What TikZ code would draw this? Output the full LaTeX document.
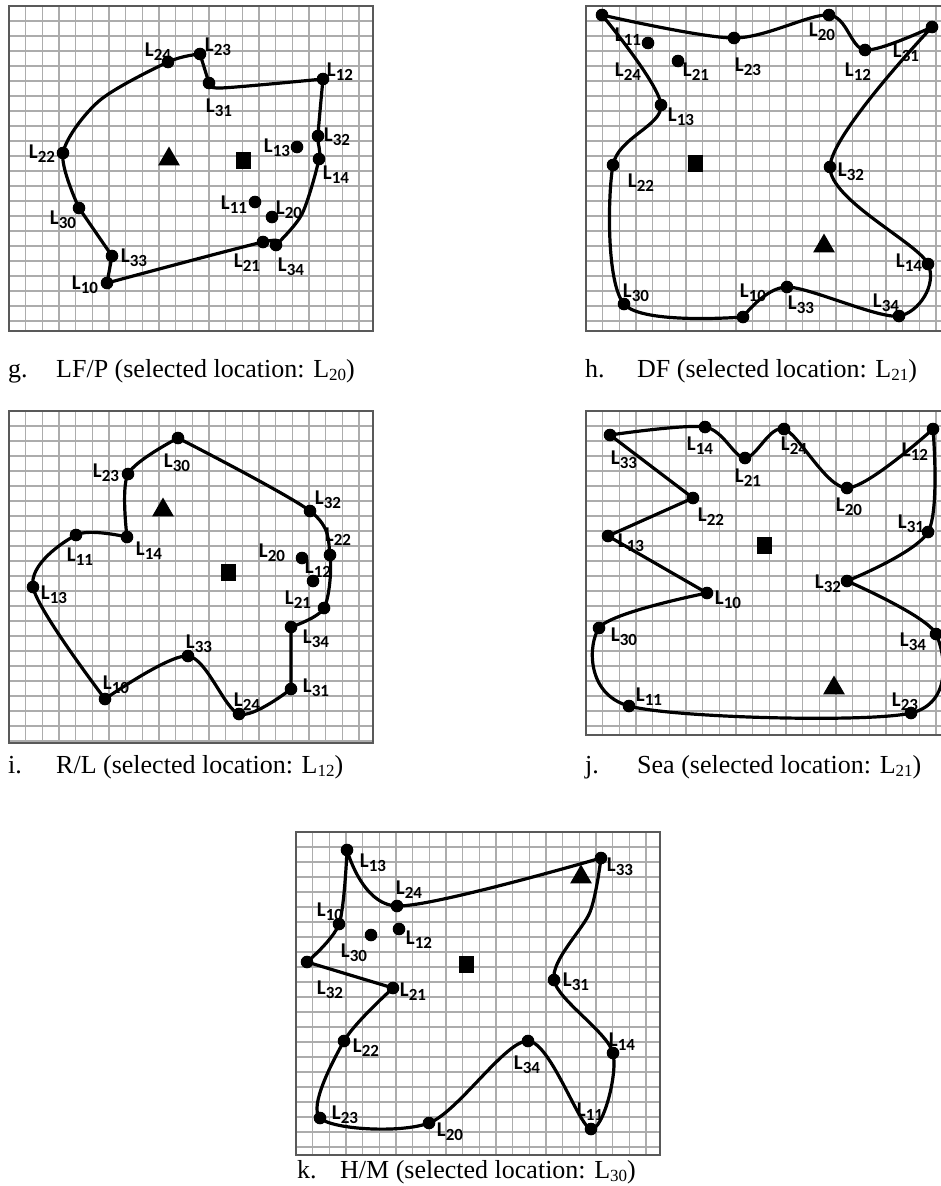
\documentclass[tikz,border=0pt]{standalone}
\usepackage{fontspec}
\setmainfont{Liberation Serif}
\newfontfamily\lblfont{Carlito}
\usetikzlibrary{shapes.geometric}

\newcommand\loc[1]{L\raisebox{-4pt}{\fontsize{17}{17}\selectfont #1}}
\newcommand\csub[1]{\raisebox{-3pt}{\fontsize{17}{17}\selectfont #1}}
% grid box: x0, y0, width, height
\newcommand\gridpanel[4]{%
  \begin{scope}
    \clip (#1,#2) rectangle ++(#3,#4);
    \foreach \i in {1,...,22} {
      \draw[gridline] (#1+\i*16.67,#2) -- ++(0,#4);
      \draw[gridline] (#1,#2+\i*15) -- ++(#3,0);
    }
  \end{scope}
  \draw[frame] (#1,#2) rectangle ++(#3,#4);
}

\begin{document}
\begin{tikzpicture}[
    x=1pt, y=-1pt,
    gridline/.style={gray!65, line width=1.4pt},
    frame/.style={gray!70!black, line width=1.5pt},
    edge/.style={line width=3.2pt, line join=round},
    lbl/.style={font=\lblfont\bfseries\fontsize{21}{21}\selectfont, inner sep=0pt},
    captext/.style={font=\fontsize{26}{30}\selectfont, inner sep=0pt, anchor=base west},
    tri/.style={regular polygon, regular polygon sides=3, fill, minimum size=25pt, inner sep=0pt},
    sq/.style={rectangle, fill, minimum width=15pt, minimum height=17pt, inner sep=0pt}
  ]
  \useasboundingbox (0,0) rectangle (941,1186);

  % Grades
  \gridpanel{9}{6}{364}{325}
  \gridpanel{586}{6}{364}{325}
  \gridpanel{9}{411}{364}{332}
  \gridpanel{586}{411}{364}{324}
  \gridpanel{296}{832}{364}{323}

  % g. LF/P
  \foreach \n/\x/\y/\a/\b in {24/168/62/158/52, 23/200/54/218/47, 31/209/83/219/108,
      12/323/79/340/72, 32/318/136/337/137, 14/319/159/336/175, 34/276/245/291/267,
      21/263/242/247/263, 10/107/283/85/285, 33/112/256/134/258, 30/79/208/63/220,
      22/63/153/42/154, 13/297/147/277/148, 11/255/202/234/205, 20/272/217/289/210} {
    \coordinate (g\n) at (\x,\y);
    \fill (g\n) circle[radius=6.3];
    \node[lbl] (lg\n) at (\a,\b) {\loc{\n}};
  }
  \draw[edge] plot[smooth] coordinates {(g12) (g32) (g14) (302,214) (g34)}
    -- plot[smooth] coordinates {(g34) (g21) (g10)} -- (g33) -- (g30)
    -- plot[smooth] coordinates {(g30) (g22) (99,101) (g24) (g23)} -- (g31)
    -- plot[smooth] coordinates {(g31) (221,88) (g12)} -- cycle;
  \node[tri] (gtri) at (169,159) {};
  \node[sq] (gsq) at (243,160) {};

  % h. DF
  \foreach \n/\x/\y/\a/\b in {11/602/15/628/37, 24/648/43/628/72, 21/678/61/696/72,
      23/734/38/748/67, 20/829/15/822/32, 12/865/50/858/72, 31/932/27/906/53,
      13/661/105/681/117, 22/613/165/641/183, 32/830/167/851/172, 14/928/264/909/263,
      30/624/304/636/293, 10/743/317/753/293, 33/787/287/801/305, 34/899/316/886/303} {
    \coordinate (h\n) at (\x,\y);
    \fill (h\n) circle[radius=6.3];
    \node[lbl] (lh\n) at (\a,\b) {\loc{\n}};
  }
  \draw[edge] plot[smooth] coordinates {(h11) (h23) (h20) (h12) (h31)}
    -- plot[smooth] coordinates {(h31) (h32) (h14) (h34) (h33) (h10)}
    -- plot[smooth] coordinates {(h10) (h30) (h22) (h13) (h11)} -- cycle;
  \node[tri] (htri) at (824,246) {};
  \node[sq] (hsq) at (695,163) {};

  % i. R/L
  \foreach \n/\x/\y/\a/\b in {30/178/438/177/463, 23/128/474/106/473, 32/310/511/328/500,
      22/330/555/338/537, 20/302/558/272/553, 12/313/581/318/569, 21/324/608/298/600,
      34/291/627/316/639, 31/291/689/316/688, 24/239/714/247/702, 33/188/656/199/644,
      10/105/699/116/685, 13/33/587/54/595, 11/76/535/80/557, 14/127/537/149/551} {
    \coordinate (i\n) at (\x,\y);
    \fill (i\n) circle[radius=6.3];
    \node[lbl] (li\n) at (\a,\b) {\loc{\n}};
  }
  \draw[edge] plot[smooth] coordinates {(i30) (i32) (i22) (i21) (i34)} -- (i31)
    -- plot[smooth] coordinates {(i31) (i24) (i33) (i10)}
    -- plot[smooth] coordinates {(i10) (i13) (i11) (i14)}
    -- plot[smooth] coordinates {(i14) (i23) (i30)} -- cycle;
  \node[tri] (itri) at (163,510) {};
  \node[sq] (isq) at (228,572) {};

  % j. Sea
  \foreach \n/\x/\y/\a/\b in {33/610/435/624/460, 14/705/427/700/446, 21/745/458/748/478,
      24/784/429/794/446, 20/847/488/849/507, 12/933/429/915/452, 31/928/532/911/524,
      32/847/581/828/584, 34/936/634/913/642, 23/911/713/905/702, 11/629/706/649/697,
      30/599/628/624/637, 10/707/593/728/600, 13/608/536/631/543, 22/693/498/711/517} {
    \coordinate (j\n) at (\x,\y);
    \fill (j\n) circle[radius=6.3];
    \node[lbl] (lj\n) at (\a,\b) {\loc{\n}};
  }
  \draw[edge] plot[smooth] coordinates {(j33) (j14) (j21) (j24) (j20) (j12)}
    -- plot[smooth] coordinates {(j12) (j31) (j32)}
    -- plot[smooth] coordinates {(j32) (j34) (j23) (j11) (j30) (j10)}
    -- (j13) -- (j22) -- cycle;
  \node[tri] (jtri) at (834,688) {};
  \node[sq] (jsq) at (764,545) {};

  % k. H/M
  \foreach \n/\x/\y/\a/\b in {13/347/850/373/863, 24/397/906/409/890, 10/339/924/330/912,
      12/399/929/419/940, 30/371/935/354/953, 32/307/962/330/990, 21/393/988/413/992,
      33/601/858/620/867, 31/554/980/576/982, 22/344/1041/366/1048, 14/613/1053/622/1042,
      34/528/1041/527/1065, 23/320/1118/345/1115, 11/591/1129/590/1112, 20/429/1123/450/1132} {
    \coordinate (k\n) at (\x,\y);
    \fill (k\n) circle[radius=6.3];
    \node[lbl] (lk\n) at (\a,\b) {\loc{\n}};
  }
  \draw[edge] plot[smooth] coordinates {(k13) (k24) (k33)}
    -- plot[smooth] coordinates {(k33) (590,912) (k31) (k14) (k11) (k34) (k20) (k23) (k22) (k21)}
    -- (k32) -- plot[smooth] coordinates {(k32) (k10) (k13)} -- cycle;
  \node[tri] (ktri) at (581,877) {};
  \node[sq] (ksq) at (466,964) {};

  % Legendas
  \node[captext] (gcap) at (8,377) {g.};
  \node[captext] (gtxt) at (56,377) {LF/P (selected location: L\csub{20})};
  \node[captext] (hcap) at (585,377) {h.};
  \node[captext] (htxt) at (637,377) {DF (selected location: L\csub{21})};
  \node[captext] (icap) at (8,773) {i.};
  \node[captext] (itxt) at (56,773) {R/L (selected location: L\csub{12})};
  \node[captext] (jcap) at (585,773) {j.};
  \node[captext] (jtxt) at (637,773) {Sea (selected location: L\csub{21})};
  \node[captext] (kcap) at (297,1178) {k.};
  \node[captext] (ktxt) at (340,1178) {H/M (selected location: L\csub{30})};
\end{tikzpicture}
\end{document}
